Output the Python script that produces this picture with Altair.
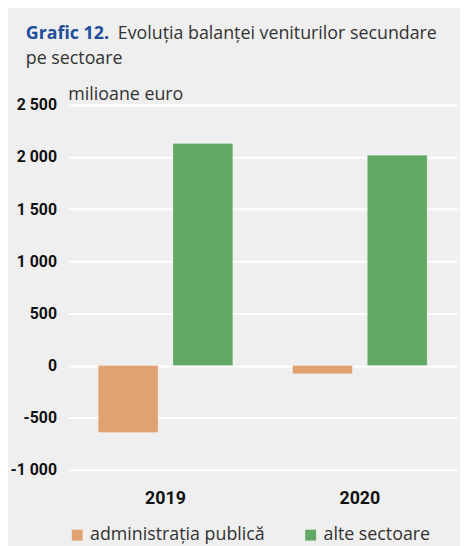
import altair as alt
import pandas as pd

years = ["2019", "2020"]
sectors = ["administrația publică", "alte sectoare"]
admin_values = [-642, -79]
alte_values = [2130, 2016]
colors = ["#E0A173", "#62A862"]

rows = []
for i, y in enumerate(years):
    rows.append({"an": y, "sector": sectors[0], "valoare": admin_values[i]})
    rows.append({"an": y, "sector": sectors[1], "valoare": alte_values[i]})
df = pd.DataFrame(rows)

LABEL_FONT = "Roboto"
TEXT_FONT = "Open Sans"

bars = alt.Chart(df).mark_bar(stroke="#ffffff", strokeOpacity=0.25, strokeWidth=1).encode(
    x=alt.X("an:N", title=None,
            scale=alt.Scale(paddingInner=0, paddingOuter=0),
            axis=alt.Axis(labelAngle=0, ticks=False, domain=False, grid=False,
                          labelFont=LABEL_FONT, labelFontSize=18, labelFontWeight="bold",
                          labelColor="#111111", labelPadding=20)),
    xOffset=alt.XOffset("sector:N", scale=alt.Scale(paddingInner=0.2, paddingOuter=0.4)),
    y=alt.Y("valoare:Q", title=None,
            scale=alt.Scale(domain=[-1000, 2500], nice=False),
            axis=alt.Axis(values=[-1000, -500, 0, 500, 1000, 1500, 2000, 2500],
                          labelExpr="replace(replace(format(datum.value, ','), ',', ' '), '\u2212', '-')",
                          ticks=False, domain=False, grid=True, gridColor="#ffffff", gridWidth=2,
                          labelFont=LABEL_FONT, labelFontSize=16, labelFontWeight="bold",
                          labelColor="#111111", labelPadding=12)),
    color=alt.Color("sector:N", title=None,
                    scale=alt.Scale(domain=sectors, range=colors),
                    legend=alt.Legend(orient="none", legendX=0, legendY=426,
                                      direction="horizontal", columns=2, padding=0,
                                      symbolType="square", symbolSize=121,
                                      symbolStrokeWidth=0, labelOffset=4,
                                      columnPadding=37,
                                      labelFont=TEXT_FONT, labelFontSize=18,
                                      labelColor="#333333", labelLimit=300)),
)

title_df = pd.DataFrame({"t": [0]})
def txt(s, x, y, color="#333333", weight="normal", size=18):
    return alt.Chart(title_df).mark_text(
        text=s, align="left", baseline="alphabetic", font=TEXT_FONT,
        fontSize=size, fontWeight=weight, color=color
    ).encode(x=alt.value(x), y=alt.value(y))

t1 = txt("Grafic 12.", -43, -67, color="#1F4E9B", weight="bold")
t2 = txt("Evoluția balanței veniturilor secundare", 50, -67)
t3 = txt("pe sectoare", -43, -41)
t4 = txt("milioane euro", 0, -5)

chart = alt.layer(bars, t1, t2, t3, t4).properties(
    width=393, height=369,
    autosize=alt.AutoSizeParams(type="none"),
    padding={"left": 61, "top": 95, "right": 3, "bottom": 74},
    background="#efefef",
).configure_view(stroke=None)

chart.save("out.html", embed_options={"renderer": "svg", "actions": False})
